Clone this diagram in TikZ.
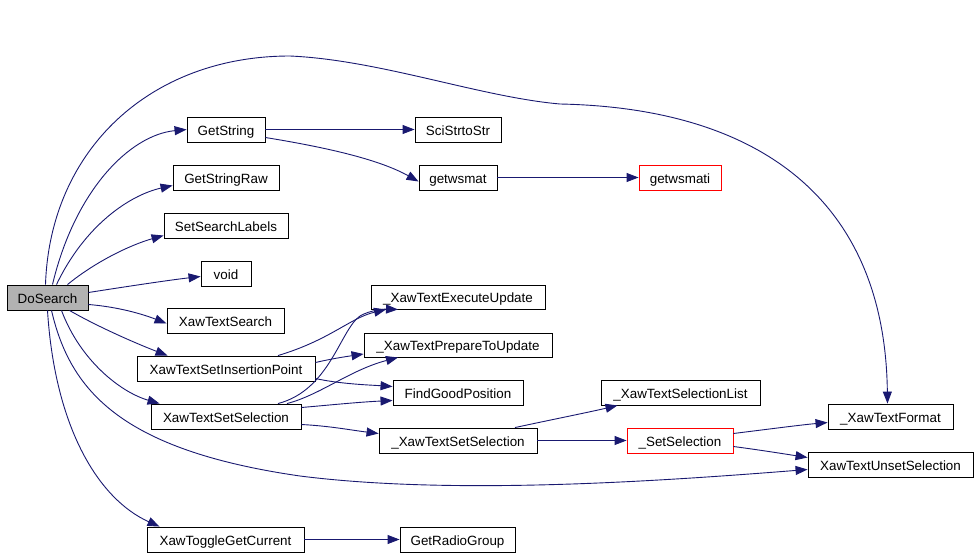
\documentclass[tikz,border=0pt]{standalone}
\usepackage{fontspec}
\setmainfont{Liberation Sans}
\usetikzlibrary{arrows.meta}
\definecolor{edgec}{HTML}{191970}
\definecolor{redb}{HTML}{FF0000}
\tikzset{
  fn/.style={draw=black, line width=0.9pt, rectangle, inner sep=0pt, minimum height=25pt, text height=13pt, text depth=2pt, font=\fontsize{13.4}{15}\selectfont, fill=white},
  fnred/.style={fn, draw=redb},
  fnroot/.style={fn, fill=black!30},
  edge/.style={draw=edgec, line width=0.9pt, -{Triangle[length=12pt,width=9pt]}}
}
\begin{document}
\begin{tikzpicture}[x=1pt,y=-1pt]
\useasboundingbox (0,0) rectangle (978,555);
% nodes
\node[fnroot, minimum width=81pt] (ds) at (47.5,297.5) {DoSearch};
\node[fn, minimum width=78pt] (gs) at (226,129.5) {GetString};
\node[fn, minimum width=106pt] (gsr) at (226,177.5) {GetStringRaw};
\node[fn, minimum width=124pt] (ssl) at (226,225.5) {SetSearchLabels};
\node[fn, minimum width=50pt] (void) at (226,273.5) {void};
\node[fn, minimum width=117pt] (xts) at (225.5,320.5) {XawTextSearch};
\node[fn, minimum width=178pt] (xtsip) at (226,368.5) {XawTextSetInsertionPoint};
\node[fn, minimum width=150pt] (xtss) at (226,416.5) {XawTextSetSelection};
\node[fn, minimum width=157pt] (xtgc) at (225.5,539.5) {XawToggleGetCurrent};
\node[fn, minimum width=86pt] (sci) at (458,129.5) {SciStrtoStr};
\node[fn, minimum width=78pt] (gwm) at (458,177.5) {getwsmat};
\node[fnred, minimum width=82pt] (gwmi) at (680,177.5) {getwsmati};
\node[fn, minimum width=174pt, minimum height=24pt] (xteu) at (458,297) {\_XawTextExecuteUpdate};
\node[fn, minimum width=188pt, minimum height=24pt] (xtptu) at (458,345) {\_XawTextPrepareToUpdate};
\node[fn, minimum width=130pt] (fgp) at (458,392.5) {FindGoodPosition};
\node[fn, minimum width=158pt] (uxtss) at (458,440.5) {\_XawTextSetSelection};
\node[fn, minimum width=115pt] (grg) at (457.5,539.5) {GetRadioGroup};
\node[fn, minimum width=159pt] (xtsl) at (680.5,392.5) {\_XawTextSelectionList};
\node[fnred, minimum width=106pt] (ssel) at (680,440.5) {\_SetSelection};
\node[fn, minimum width=125pt] (xtf) at (890.5,416.5) {\_XawTextFormat};
\node[fn, minimum width=165pt] (xtus) at (890.5,464.5) {XawTextUnsetSelection};
% edges from DoSearch
\draw[edge] ([xshift=5pt]ds.north) .. controls (75,190) and (130,135) .. (gs.west);
\draw[edge] ([xshift=9pt]ds.north) .. controls (85,225) and (130,195) .. ([yshift=-8pt]gsr.west);
\draw[edge] ([xshift=20pt]ds.north) .. controls (95,262) and (130,245) .. ([yshift=-10pt]ssl.west);
\draw[edge] ([yshift=5pt]ds.east) .. controls (130,286) and (170,280) .. ([yshift=-3pt]void.west);
\draw[edge] ([yshift=-7pt]ds.east) .. controls (120,307) and (145,315) .. ([yshift=-3pt]xts.west);
\draw[edge] ([xshift=22pt]ds.south) .. controls (100,328) and (140,345) .. ([xshift=31pt]xtsip.north west);
\draw[edge] ([xshift=14pt]ds.south) .. controls (80,360) and (120,392) .. ([xshift=9pt]xtss.north west);
\draw[edge] (ds.south) .. controls (55,430) and (100,500) .. ([xshift=13pt]xtgc.north west);
\draw[edge] ([xshift=4pt]ds.south) .. controls (70,390) and (120,450) .. (300,476) .. controls (450,495) and (650,482) .. ([yshift=-5pt]xtus.west);
\draw[edge] ([xshift=-2pt]ds.north) .. controls (50,150) and (150,56) .. (290,56) .. controls (380,60) and (480,97) .. (560,104) .. controls (760,108) and (885,200) .. ([xshift=-3pt]xtf.north);
% other edges
\draw[edge] (gs.east) -- (sci.west);
\draw[edge] ([yshift=-8pt]gs.east) .. controls (330,148) and (380,160) .. ([yshift=-4pt]gwm.west);
\draw[edge] (gwm.east) -- (gwmi.west);
\draw[edge] ([xshift=52pt]xtsip.north) .. controls (330,340) and (350,318) .. ([xshift=-72pt]xteu.south);
\draw[edge] ([yshift=6pt]xtsip.east) .. controls (335,358) and (350,356) .. ([yshift=-9pt]xtptu.west);
\draw[edge] ([yshift=-10pt]xtsip.east) .. controls (340,384) and (370,385) .. ([yshift=6pt]fgp.west);
\draw[edge] ([xshift=52pt]xtss.north) .. controls (330,390) and (340,330) .. (360,316) .. controls (370,310) and (385,309) .. ([xshift=-60pt]xteu.south);
\draw[edge] ([xshift=61pt]xtss.north) .. controls (320,395) and (350,370) .. ([xshift=-60pt]xtptu.south);
\draw[edge] ([yshift=9pt]xtss.east) .. controls (330,405) and (360,402) .. ([yshift=-8pt]fgp.west);
\draw[edge] ([yshift=-8pt]xtss.east) .. controls (330,426) and (350,430) .. ([yshift=7pt]uxtss.west);
\draw[edge] ([xshift=57pt]uxtss.north) .. controls (550,420) and (590,412) .. ([xshift=-63pt]xtsl.south);
\draw[edge] (uxtss.east) -- (ssel.west);
\draw[edge] ([yshift=7pt]ssel.east) .. controls (770,429) and (800,425) .. ([yshift=-6pt]xtf.west);
\draw[edge] ([yshift=-6pt]ssel.east) .. controls (760,450) and (785,454) .. ([yshift=7pt]xtus.west);
\draw[edge] (xtgc.east) -- (grg.west);
\end{tikzpicture}
\end{document}
